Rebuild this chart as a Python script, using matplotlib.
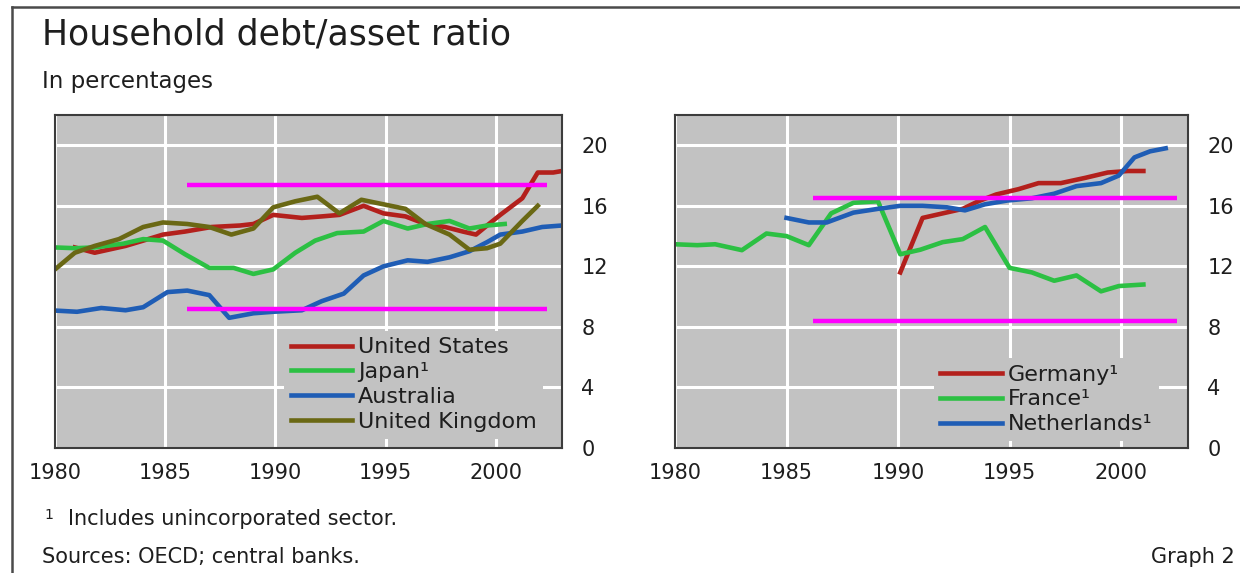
import matplotlib
matplotlib.use('Agg')
import matplotlib.pyplot as plt
from matplotlib.lines import Line2D

# ---------------- data ----------------
years_ticks = [1980, 1985, 1990, 1995, 2000]
y_ticks = [0, 4, 8, 12, 16, 20]

# Left panel
us_x = [1980.9, 1981.8, 1983.2, 1984.0, 1984.9, 1985.9, 1987.1, 1988.4, 1989.0,
        1989.9, 1991.2, 1992.1, 1992.9, 1994.0, 1994.9, 1995.9, 1996.8, 1997.7,
        1998.5, 1999.1, 1999.6, 2000.2, 2001.2, 2001.9, 2002.6, 2003.0]
us_y = [13.25, 12.9, 13.35, 13.7, 14.1, 14.3, 14.6, 14.7, 14.8,
        15.4, 15.2, 15.3, 15.4, 16.0, 15.5, 15.3, 14.8, 14.6,
        14.3, 14.1, 14.7, 15.4, 16.5, 18.2, 18.2, 18.3]

jp_x = [1980.0, 1980.9, 1981.8, 1983.1, 1984.0, 1984.9, 1985.9, 1987.0, 1988.1,
        1989.0, 1989.9, 1990.9, 1991.8, 1992.8, 1994.0, 1994.9, 1996.0, 1996.9,
        1997.9, 1998.8, 1999.6, 2000.4]
jp_y = [13.25, 13.2, 13.25, 13.5, 13.8, 13.7, 12.8, 11.9, 11.9,
        11.5, 11.8, 12.9, 13.7, 14.2, 14.3, 15.0, 14.5, 14.8,
        15.0, 14.5, 14.7, 14.8]

au_x = [1980.0, 1981.0, 1982.1, 1983.2, 1984.0, 1985.1, 1986.0, 1987.0, 1987.9,
        1989.0, 1989.9, 1991.2, 1992.1, 1993.1, 1994.0, 1994.9, 1996.0, 1996.9,
        1997.9, 1998.8, 1999.6, 2000.2, 2001.2, 2002.1, 2003.0]
au_y = [9.08, 9.0, 9.25, 9.1, 9.3, 10.3, 10.4, 10.1, 8.6,
        8.9, 9.0, 9.1, 9.7, 10.2, 11.4, 12.0, 12.4, 12.3,
        12.6, 13.0, 13.6, 14.1, 14.3, 14.6, 14.7]

uk_x = [1980.0, 1980.9, 1981.8, 1982.9, 1984.0, 1984.9, 1986.0, 1987.0, 1988.0,
        1989.0, 1989.9, 1990.9, 1991.9, 1992.9, 1993.9, 1994.9, 1995.9, 1996.8,
        1997.9, 1998.8, 1999.6, 2000.2, 2001.2, 2001.9]
uk_y = [11.8, 12.9, 13.35, 13.8, 14.6, 14.9, 14.8, 14.6, 14.1,
        14.5, 15.9, 16.3, 16.6, 15.5, 16.4, 16.1, 15.8, 14.8,
        14.1, 13.1, 13.2, 13.5, 15.0, 16.0]

# Right panel
de_x = [1990.1, 1991.1, 1992.0, 1992.9, 1993.6, 1994.4, 1995.4, 1996.3, 1997.3,
        1998.4, 1999.4, 2000.3, 2001.0]
de_y = [11.6, 15.2, 15.5, 15.8, 16.3, 16.75, 17.1, 17.5, 17.5,
        17.85, 18.2, 18.3, 18.3]

fr_x = [1980.0, 1981.0, 1981.8, 1983.0, 1984.1, 1985.0, 1986.0, 1987.0, 1988.0,
        1989.1, 1990.1, 1991.0, 1992.0, 1992.9, 1993.9, 1995.0, 1996.0, 1997.0,
        1998.0, 1999.1, 1999.9, 2001.0]
fr_y = [13.46, 13.4, 13.46, 13.07, 14.17, 14.0, 13.4, 15.5, 16.2,
        16.3, 12.8, 13.1, 13.6, 13.8, 14.6, 11.9, 11.6, 11.05,
        11.4, 10.35, 10.7, 10.8]

nl_x = [1985.0, 1986.0, 1986.8, 1988.0, 1989.1, 1990.1, 1991.1, 1992.2, 1993.0,
        1993.9, 1994.9, 1996.0, 1997.0, 1998.0, 1999.1, 1999.9, 2000.6, 2001.3,
        2002.0]
nl_y = [15.2, 14.9, 14.9, 15.55, 15.8, 16.0, 16.0, 15.9, 15.7,
        16.1, 16.35, 16.5, 16.8, 17.3, 17.5, 18.0, 19.2, 19.6,
        19.8]

# Magenta reference lines (overlaid annotation)
left_band_levels = [17.37, 9.2]
left_band_span = [1986.0, 2002.3]
right_band_levels = [16.53, 8.37]
right_band_span = [1986.2, 2002.5]

# ---------------- styling ----------------
RED = '#b3201c'
GREEN = '#2cc043'
BLUE = '#1f5db5'
OLIVE = '#6a6814'
MAGENTA = '#ff00ff'
AX_BG = '#c2c2c2'
TXT = '#1e1e1e'
LW = 3.3

W, H = 1240, 573
fig = plt.figure(figsize=(W / 100, H / 100), dpi=100)
fig.patch.set_facecolor('white')

axL = fig.add_axes([55 / W, 1 - 448 / H, 507 / W, 333 / H])
axR = fig.add_axes([675 / W, 1 - 448 / H, 513 / W, 333 / H])

for ax in (axL, axR):
    ax.set_facecolor(AX_BG)
    ax.set_xlim(1980, 2003)
    ax.set_ylim(0, 22)
    ax.set_xticks(years_ticks)
    ax.set_yticks(y_ticks)
    ax.yaxis.tick_right()
    ax.set_axisbelow(True)
    ax.grid(True, color='white', lw=2.2)
    ax.tick_params(axis='both', length=0, labelsize=15, colors=TXT)
    ax.tick_params(axis='x', pad=11)
    ax.tick_params(axis='y', pad=14)
    for sp in ax.spines.values():
        sp.set_color('#3c3c3c')
        sp.set_linewidth(1.5)

lus, = axL.plot(us_x, us_y, color=RED, lw=LW, label='United States')
ljp, = axL.plot(jp_x, jp_y, color=GREEN, lw=LW, label='Japan\u00b9')
lau, = axL.plot(au_x, au_y, color=BLUE, lw=LW, label='Australia')
luk, = axL.plot(uk_x, uk_y, color=OLIVE, lw=LW, label='United Kingdom')
for lev in left_band_levels:
    axL.hlines(lev, left_band_span[0], left_band_span[1], color=MAGENTA, lw=3.2, zorder=5)

lde, = axR.plot(de_x, de_y, color=RED, lw=LW, label='Germany\u00b9')
lfr, = axR.plot(fr_x, fr_y, color=GREEN, lw=LW, label='France\u00b9')
lnl, = axR.plot(nl_x, nl_y, color=BLUE, lw=LW, label='Netherlands\u00b9')
for lev in right_band_levels:
    axR.hlines(lev, right_band_span[0], right_band_span[1], color=MAGENTA, lw=3.2, zorder=5)

leg_kw = dict(loc='upper left', borderpad=0.3, borderaxespad=0, handlelength=2.75,
              handletextpad=0.27, labelspacing=0.22, fontsize=16, frameon=True,
              fancybox=False, facecolor=AX_BG, edgecolor='none', framealpha=1)
legL = axL.legend(handles=[lus, ljp, lau, luk], bbox_to_anchor=(1990.4, 7.75),
                  bbox_transform=axL.transData, **leg_kw)
legR = axR.legend(handles=[lde, lfr, lnl], bbox_to_anchor=(1991.6, 5.95),
                  bbox_transform=axR.transData, **leg_kw)
for lg in (legL, legR):
    for t in lg.get_texts():
        t.set_color(TXT)

# ---------------- texts ----------------
fig.text(42 / W, 1 - 45 / H, 'Household debt/asset ratio', fontsize=25,
         color=TXT, va='baseline', ha='left')
fig.text(42 / W, 1 - 88 / H, 'In percentages', fontsize=16.5,
         color=TXT, va='baseline', ha='left')
fig.text(44 / W, 1 - 519 / H, '1', fontsize=10, color=TXT, va='baseline', ha='left')
fig.text(68 / W, 1 - 525 / H, 'Includes unincorporated sector.', fontsize=15,
         color=TXT, va='baseline', ha='left')
fig.text(42 / W, 1 - 563 / H, 'Sources: OECD; central banks.', fontsize=15,
         color=TXT, va='baseline', ha='left')
fig.text(1235 / W, 1 - 563 / H, 'Graph 2', fontsize=15,
         color=TXT, va='baseline', ha='right')

# outer frame (left and top edges visible in the reference)
fig.add_artist(Line2D([12 / W, 12 / W], [0, 1 - 7 / H], transform=fig.transFigure,
                      color='#4a4a4a', lw=1.8))
fig.add_artist(Line2D([12 / W, 1], [1 - 7 / H, 1 - 7 / H], transform=fig.transFigure,
                      color='#4a4a4a', lw=1.8))

fig.savefig('out.png', dpi=100)
